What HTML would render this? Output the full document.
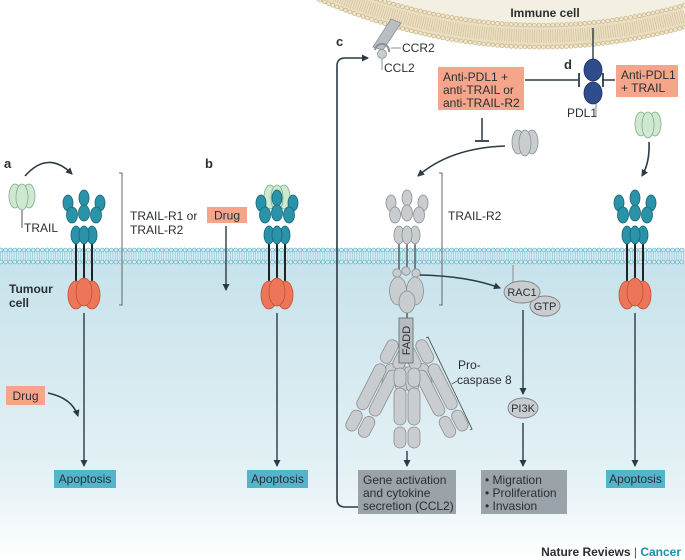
<!DOCTYPE html>
<html><head><meta charset="utf-8"><style>
html,body{margin:0;padding:0;background:#fff}
svg{display:block}
text{font-family:"Liberation Sans",sans-serif;fill:#2a2f33}
</style></head><body>
<svg width="685" height="560" viewBox="0 0 685 560" xmlns="http://www.w3.org/2000/svg">
<defs>
<linearGradient id="cell" x1="0" y1="0" x2="0" y2="1">
<stop offset="0" stop-color="#c6e2eb"/><stop offset="0.75" stop-color="#e6f2f6"/><stop offset="1" stop-color="#ffffff"/>
</linearGradient>
<marker id="ah" markerWidth="8" markerHeight="8" refX="6" refY="4" orient="auto" markerUnits="userSpaceOnUse">
<path d="M0,0.5 L7,4 L0,7.5 Z" fill="#2b3a44"/></marker>
<g id="topT">
<ellipse cx="-16" cy="203" rx="5" ry="8"/><ellipse cx="16" cy="203" rx="5" ry="8"/><ellipse cx="0" cy="198" rx="5" ry="8"/>
<ellipse cx="-12" cy="215" rx="5.5" ry="8"/><ellipse cx="12" cy="215" rx="5.5" ry="8"/><ellipse cx="0" cy="213" rx="5.5" ry="8"/>
<ellipse cx="-8" cy="235" rx="5" ry="9"/><ellipse cx="8" cy="235" rx="5" ry="9"/><ellipse cx="0" cy="235" rx="5" ry="9"/>
</g>
<g id="rec">
<line x1="-8" y1="243" x2="-8" y2="284" stroke="#222" stroke-width="2"/>
<line x1="0" y1="243" x2="0" y2="282" stroke="#222" stroke-width="2"/>
<line x1="8" y1="243" x2="8" y2="284" stroke="#222" stroke-width="2"/>
<g fill="#2a93a8" stroke="#16667a" stroke-width="0.8"><use href="#topT"/></g>
<g fill="#ee7658" stroke="#c04f36" stroke-width="0.8">
<ellipse cx="-8" cy="295" rx="8" ry="14"/><ellipse cx="8" cy="295" rx="8" ry="14"/><ellipse cx="0" cy="292" rx="8" ry="14"/></g>
</g>
<g id="tri">
<ellipse cx="-7" cy="0" rx="6" ry="12"/><ellipse cx="7" cy="0" rx="6" ry="12"/><ellipse cx="0" cy="1" rx="6" ry="13"/>
</g>
<g id="outerArm">
<rect x="-13" y="4" width="12" height="25" rx="6"/><rect x="1" y="4" width="12" height="25" rx="6"/>
<rect x="-13" y="31" width="12" height="50" rx="6"/><rect x="1" y="31" width="12" height="50" rx="6"/>
<rect x="-13" y="83" width="12" height="22" rx="6"/><rect x="1" y="83" width="12" height="22" rx="6"/>
</g>
<g id="innerArm">
<rect x="-13" y="26" width="12" height="26" rx="6"/><rect x="1" y="26" width="12" height="26" rx="6"/>
</g>
</defs>

<rect x="0" y="258" width="685" height="302" fill="url(#cell)"/>
<rect x="0" y="249" width="685" height="14" fill="#d8eef4"/>
<line x1="0" y1="256" x2="685" y2="256" stroke="#8cc7d7" stroke-width="9" stroke-dasharray="0.7 1.6"/>
<line x1="1" y1="250" x2="685" y2="250" stroke="#5fb0c6" stroke-width="4.6" stroke-dasharray="0 4.6" stroke-linecap="round"/>
<line x1="1" y1="250" x2="685" y2="250" stroke="#d4edf4" stroke-width="3.2" stroke-dasharray="0 4.6" stroke-linecap="round"/>
<line x1="1" y1="262" x2="685" y2="262" stroke="#5fb0c6" stroke-width="4.6" stroke-dasharray="0 4.6" stroke-linecap="round"/>
<line x1="1" y1="262" x2="685" y2="262" stroke="#d4edf4" stroke-width="3.2" stroke-dasharray="0 4.6" stroke-linecap="round"/>

<path d="M320,0 L320,-11 Q503,67 685,16 L685,0 Z" fill="#f4efe3"/>
<path d="M320,-11 Q503,67 685,16" fill="none" stroke="#eadfc4" stroke-width="24"/>
<path d="M320,-11 Q503,67 685,16" fill="none" stroke="#d3c196" stroke-width="13" stroke-dasharray="0.7 1.6"/>
<path d="M320,-22 Q503,56 685,5" fill="none" stroke="#c8b27f" stroke-width="4.6" stroke-dasharray="0 4.6" stroke-linecap="round"/>
<path d="M320,-22 Q503,56 685,5" fill="none" stroke="#f0e7d2" stroke-width="3.2" stroke-dasharray="0 4.6" stroke-linecap="round"/>
<path d="M320,0 Q503,78 685,27" fill="none" stroke="#c8b27f" stroke-width="4.6" stroke-dasharray="0 4.6" stroke-linecap="round"/>
<path d="M320,0 Q503,78 685,27" fill="none" stroke="#f0e7d2" stroke-width="3.2" stroke-dasharray="0 4.6" stroke-linecap="round"/>
<text x="545" y="17" font-size="12" font-weight="bold" text-anchor="middle">Immune cell</text>

<text x="4" y="168" font-size="13" font-weight="bold">a</text>
<text x="205" y="168" font-size="13" font-weight="bold">b</text>
<text x="336" y="46" font-size="13" font-weight="bold">c</text>
<text x="564" y="69" font-size="13" font-weight="bold">d</text>

<!-- Panel a -->
<line x1="22" y1="205" x2="22" y2="228" stroke="#555" stroke-width="1"/>
<g transform="translate(22,196)" fill="#cfe8d0" stroke="#7fae89" stroke-width="0.8"><use href="#tri"/></g>
<text x="24" y="232" font-size="12">TRAIL</text>
<path d="M25,176 Q48,150 72,174" fill="none" stroke="#2b3a44" stroke-width="1.6" marker-end="url(#ah)"/>
<g transform="translate(84,0)"><use href="#rec"/></g>
<path d="M119,173 L122,173 L122,305 L119,305" fill="none" stroke="#666" stroke-width="1"/>
<text x="130" y="220" font-size="12">TRAIL-R1 or</text>
<text x="130" y="234" font-size="12">TRAIL-R2</text>
<text x="9" y="293" font-size="12" font-weight="bold">Tumour</text>
<text x="9" y="307" font-size="12" font-weight="bold">cell</text>
<line x1="84" y1="313" x2="84" y2="466" stroke="#2b3a44" stroke-width="1.4" marker-end="url(#ah)"/>
<rect x="6" y="386" width="39" height="19" fill="#f4a58a"/>
<text x="25.5" y="400" font-size="12" text-anchor="middle">Drug</text>
<path d="M48,393 Q72,398 78,416" fill="none" stroke="#2b3a44" stroke-width="1.6" marker-end="url(#ah)"/>
<rect x="54" y="470" width="62" height="18" fill="#52b5cb"/>
<text x="85" y="483" font-size="12" text-anchor="middle">Apoptosis</text>

<!-- Panel b -->
<g transform="translate(277,197)" fill="#cfe8d0" stroke="#7fae89" stroke-width="0.8"><use href="#tri"/></g>
<g transform="translate(277,0)"><use href="#rec"/></g>
<rect x="207" y="207" width="40" height="16" fill="#f4a58a"/>
<text x="227" y="219.5" font-size="12" text-anchor="middle">Drug</text>
<line x1="226" y1="226" x2="226" y2="290" stroke="#2b3a44" stroke-width="1.4" marker-end="url(#ah)"/>
<line x1="277" y1="313" x2="277" y2="466" stroke="#2b3a44" stroke-width="1.4" marker-end="url(#ah)"/>
<rect x="247" y="470" width="61" height="18" fill="#52b5cb"/>
<text x="277.5" y="483" font-size="12" text-anchor="middle">Apoptosis</text>

<!-- Panel c -->
<path d="M358,507 L345,507 Q337,507 337,499 L337,66 Q337,58 345,58 L368,58" fill="none" stroke="#2b3a44" stroke-width="1.6" marker-end="url(#ah)"/>
<polygon points="391,19 401,23 383,50 373,47" fill="#b9bec2" stroke="#8a9095" stroke-width="0.8"/>
<path d="M375,50 A7,7 0 0 1 389,52" fill="none" stroke="#8a9095" stroke-width="2"/>
<circle cx="382" cy="54" r="4.5" fill="#c9cdd0" stroke="#8a9095" stroke-width="0.8"/>
<line x1="391" y1="48" x2="401" y2="48" stroke="#777" stroke-width="0.8"/>
<text x="402" y="52" font-size="12">CCR2</text>
<line x1="382" y1="59" x2="382" y2="70" stroke="#777" stroke-width="0.8"/>
<text x="384" y="72" font-size="12">CCL2</text>

<rect x="438" y="67" width="86" height="43" fill="#f4a58a"/>
<text x="443" y="81" font-size="12">Anti-PDL1 +</text>
<text x="443" y="94" font-size="12">anti-TRAIL or</text>
<text x="443" y="107" font-size="12">anti-TRAIL-R2</text>
<line x1="525" y1="80" x2="578" y2="80" stroke="#2b3a44" stroke-width="1.5"/>
<line x1="579" y1="73" x2="579" y2="87" stroke="#2b3a44" stroke-width="1.8"/>
<line x1="482" y1="118" x2="482" y2="140" stroke="#2b3a44" stroke-width="1.5"/>
<line x1="475" y1="141" x2="489" y2="141" stroke="#2b3a44" stroke-width="1.8"/>
<g transform="translate(525,142)" fill="#c9cdd0" stroke="#8a9095" stroke-width="0.8"><use href="#tri"/></g>
<path d="M505,146 Q450,148 418,176" fill="none" stroke="#2b3a44" stroke-width="1.6" marker-end="url(#ah)"/>

<g transform="translate(407,0)">
<line x1="-8" y1="243" x2="-8" y2="270" stroke="#666" stroke-width="1.6"/>
<line x1="0" y1="243" x2="0" y2="268" stroke="#666" stroke-width="1.6"/>
<line x1="8" y1="243" x2="8" y2="270" stroke="#666" stroke-width="1.6"/>
<g fill="#c9cdd0" stroke="#8a9095" stroke-width="0.8"><use href="#topT"/>
<circle cx="-10" cy="273" r="4.2"/><circle cx="9" cy="273" r="4.2"/><circle cx="-1" cy="271" r="4.2"/>
<ellipse cx="-9" cy="291" rx="8.5" ry="14"/><ellipse cx="8" cy="291" rx="8.5" ry="14"/><ellipse cx="0" cy="302" rx="8" ry="11"/>
</g>
<line x1="0" y1="313" x2="0" y2="318" stroke="#666" stroke-width="1.6"/>
</g>
<path d="M439,173 L442,173 L442,305 L439,305" fill="none" stroke="#666" stroke-width="1"/>
<text x="448" y="220" font-size="12">TRAIL-R2</text>

<g fill="#c9cdd0" stroke="#8a9095" stroke-width="0.8">
<g transform="translate(405,340) rotate(13)"><use href="#innerArm"/></g>
<g transform="translate(409,340) rotate(-13)"><use href="#innerArm"/></g>
<g transform="translate(403,340) rotate(27)"><use href="#outerArm"/></g>
<g transform="translate(411,340) rotate(-27)"><use href="#outerArm"/></g>
<rect x="394" y="368" width="12" height="19" rx="6"/><rect x="408" y="368" width="12" height="19" rx="6"/>
<rect x="394" y="388" width="12" height="37" rx="6"/><rect x="408" y="388" width="12" height="37" rx="6"/>
<rect x="394" y="427" width="12" height="21" rx="6"/><rect x="408" y="427" width="12" height="21" rx="6"/>
</g>
<rect x="399" y="318" width="14" height="45" fill="#b7bcc0" stroke="#6d7378" stroke-width="0.9"/>
<text x="0" y="0" font-size="11" text-anchor="middle" transform="translate(410,340.5) rotate(-90)">FADD</text>
<path d="M426,338 L428,337 L472,429 L470,430" fill="none" stroke="#555" stroke-width="0.9"/>
<text x="458" y="369" font-size="12">Pro-</text>
<line x1="452" y1="384" x2="457" y2="381" stroke="#555" stroke-width="0.8"/>
<text x="457" y="384" font-size="12">caspase 8</text>
<line x1="407" y1="451" x2="407" y2="466" stroke="#2b3a44" stroke-width="1.4" marker-end="url(#ah)"/>
<rect x="358" y="470" width="98" height="44" fill="#9aa3a9"/>
<text x="363" y="484" font-size="12">Gene activation</text>
<text x="363" y="497" font-size="12">and cytokine</text>
<text x="363" y="510" font-size="12">secretion (CCL2)</text>

<path d="M420,275 Q468,276 500,288" fill="none" stroke="#2b3a44" stroke-width="1.6" marker-end="url(#ah)"/>
<line x1="513" y1="265" x2="513" y2="282" stroke="#999" stroke-width="1.2"/>
<ellipse cx="545" cy="306" rx="15" ry="10" fill="#c9cdd0" stroke="#7d8388" stroke-width="0.9"/>
<text x="545" y="310" font-size="11" text-anchor="middle">GTP</text>
<ellipse cx="522" cy="292" rx="18" ry="11" fill="#c9cdd0" stroke="#7d8388" stroke-width="0.9"/>
<text x="522" y="296" font-size="11" text-anchor="middle">RAC1</text>
<line x1="523" y1="310" x2="523" y2="394" stroke="#2b3a44" stroke-width="1.4" marker-end="url(#ah)"/>
<ellipse cx="523" cy="408" rx="15" ry="10" fill="#c9cdd0" stroke="#7d8388" stroke-width="0.9"/>
<text x="523" y="412" font-size="11" text-anchor="middle">PI3K</text>
<line x1="523" y1="423" x2="523" y2="466" stroke="#2b3a44" stroke-width="1.4" marker-end="url(#ah)"/>
<rect x="481" y="470" width="86" height="44" fill="#9aa3a9"/>
<text x="485" y="484" font-size="12">• Migration</text>
<text x="485" y="497" font-size="12">• Proliferation</text>
<text x="485" y="510" font-size="12">• Invasion</text>

<!-- Panel d -->
<line x1="593" y1="28" x2="593" y2="62" stroke="#2b3a44" stroke-width="1.4"/>
<line x1="596" y1="100" x2="596" y2="116" stroke="#999" stroke-width="1.2"/>
<ellipse cx="593" cy="70" rx="9" ry="11" fill="#2f4c8c" stroke="#1b2f63" stroke-width="0.8"/>
<ellipse cx="593" cy="93" rx="9" ry="11" fill="#2f4c8c" stroke="#1b2f63" stroke-width="0.8"/>
<text x="567" y="117" font-size="12">PDL1</text>
<line x1="603" y1="80" x2="615" y2="80" stroke="#2b3a44" stroke-width="1.5"/>
<line x1="603" y1="73" x2="603" y2="87" stroke="#2b3a44" stroke-width="1.8"/>
<rect x="616" y="65" width="62" height="32" fill="#f4a58a"/>
<text x="621" y="79" font-size="12">Anti-PDL1</text>
<text x="621" y="92" font-size="12">+ TRAIL</text>
<g transform="translate(648,124)" fill="#cfe8d0" stroke="#7fae89" stroke-width="0.8"><use href="#tri"/></g>
<path d="M649,142 Q650,162 642,176" fill="none" stroke="#2b3a44" stroke-width="1.6" marker-end="url(#ah)"/>
<g transform="translate(635,0)"><use href="#rec"/></g>
<line x1="635" y1="313" x2="635" y2="466" stroke="#2b3a44" stroke-width="1.4" marker-end="url(#ah)"/>
<rect x="606" y="470" width="59" height="18" fill="#52b5cb"/>
<text x="635.5" y="483" font-size="12" text-anchor="middle">Apoptosis</text>

<text x="681" y="556" font-size="12" font-weight="bold" text-anchor="end">Nature Reviews <tspan font-weight="normal" fill="#555">|</tspan> <tspan fill="#1a8fa8">Cancer</tspan></text>
</svg>
</body></html>
